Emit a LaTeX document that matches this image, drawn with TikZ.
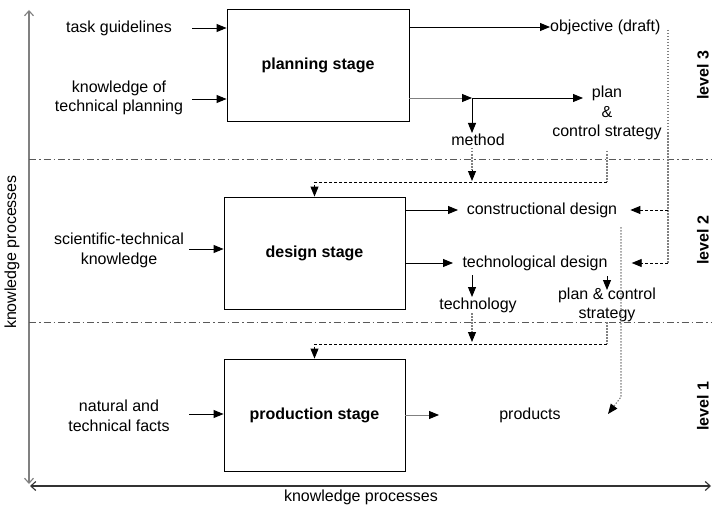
\documentclass[tikz,border=0pt]{standalone}
\usepackage{fontspec}
\setmainfont{Liberation Sans}
\usetikzlibrary{arrows.meta}
\begin{document}
\begin{tikzpicture}[x=1pt,y=-1pt,
  every node/.style={inner sep=0pt, align=center, font=\fontsize{16}{19.5}\selectfont},
  stage/.style={draw, line width=0.9pt, minimum width=181pt, minimum height=112pt, font=\fontsize{16}{19.5}\selectfont\bfseries},
  lvl/.style={rotate=90, font=\fontsize{16}{19.5}\selectfont\bfseries},
  arr/.style={-{Triangle[length=10pt,width=8pt]}, line width=0.9pt},
  garr/.style={-{Triangle[length=10pt,width=8pt,color=black]}, line width=0.9pt, draw=gray},
  dots/.style={draw=gray, dash pattern=on 1.5pt off 1.5pt, line width=1.1pt},
  dsh/.style={dash pattern=on 3pt off 2pt, line width=0.9pt},
  levelline/.style={draw=black!65, line width=0.9pt, dash pattern=on 7pt off 3pt on 1.5pt off 3pt},
  axis/.style={line width=1.1pt, {Straight Barb[length=5pt,width=9pt]}-{Straight Barb[length=5pt,width=9pt]}}
]
\useasboundingbox (0,0) rectangle (712,508);

% axes
\draw[axis, draw=gray] (29,10) -- (29,484);
\draw[axis, draw=black!80] (30,486) -- (711,486);
\node[rotate=90] (kpv) at (12,252) {knowledge processes};
\node (kph) at (361,497) {knowledge processes};

% level separators
\draw[levelline] (29,159) -- (712,159);
\draw[levelline] (29,322) -- (712,322);

% level labels
\node[lvl] (l3) at (703,75) {level 3};
\node[lvl] (l2) at (703,240) {level 2};
\node[lvl] (l1) at (703,406) {level 1};

% stage boxes
\node[stage, minimum width=182pt] (plan) at (318,65) {planning stage};
\node[stage] (design) at (314.5,253) {design stage};
\node[stage] (prod) at (314.5,415) {production stage};

% inputs
\node (tg) at (119,28) {task guidelines};
\node (ktp) at (119,98) {knowledge of\\technical planning};
\node (stk) at (119,250.5) {scientific-technical\\knowledge};
\node (ntf) at (119,416) {natural and\\technical facts};
\coordinate (tgA) at (192,28);
\coordinate (ktpA) at (192,99);
\coordinate (stkA) at (189,249);
\coordinate (ntfA) at (189,414);
\draw[arr] (tgA) -- (tgA -| plan.west);
\draw[arr] (ktpA) -- (ktpA -| plan.west);
\draw[arr] (stkA) -- (stkA -| design.west);
\draw[arr] (ntfA) -- (ntfA -| prod.west);

% planning outputs
\node[anchor=west] (obj) at (550,27) {objective (draft)};
\draw[arr] (plan.east |- obj.west) -- (obj.west);
\coordinate (split) at (472,98);
\coordinate (pcsIn) at (583,98);
\node (pcs1) at (607,113) {plan\\\&\\control strategy};
\node (method) at (478,140) {method};
\draw[garr] (plan.east |- split) -- (split);
\draw[arr] (split) -- (pcsIn);
\draw[arr] (split) -- (split |- 0,133);

% feedback into design stage
\coordinate (mTop) at (472,148);
\coordinate (mTip) at (472,181);
\draw[dots] (mTop) -- (472,170);
\draw[arr, dash pattern=on 1.5pt off 1.5pt] (472,170) -- (mTip);
\coordinate (c1) at (607,182);
\draw[dots] (607,151) -- (c1);
\draw[dsh, arr] (c1) -- (c1 -| design.north) -- (design.north);

% objective dotted line
\coordinate (o1) at (668,30);
\coordinate (o2) at (668,210);
\coordinate (o3) at (668,263);
\draw[dots] (o1) -- (o3);

% design outputs
\node (cd) at (542,210) {constructional design};
\node (td) at (535,263) {technological design};
\coordinate (cdIn) at (458,210);
\coordinate (tdIn) at (453,263);
\draw[arr] (design.east |- cdIn) -- (cdIn);
\draw[arr] (design.east |- tdIn) -- (tdIn);
\draw[dsh, arr] (o2) -- ([xshift=13pt]cd.east);
\draw[dsh, arr] (o3) -- ([xshift=24pt]td.east);

\node (tech) at (478,305) {technology};
\draw[arr] (472,275) -- (472,297);
\node (pcs2) at (607,305) {plan \& control\\strategy};
\draw[arr] (607,276) -- (607,290);

% feedback into production stage
\draw[dots] (472,313) -- (472,332);
\draw[arr, dash pattern=on 1.5pt off 1.5pt] (472,332) -- (472,342);
\coordinate (c2) at (607,344);
\draw[dots] (607,322) -- (c2);
\draw[dsh, arr] (c2) -- (c2 -| prod.north) -- (prod.north);

% production outputs
\node (prodt) at (530,415) {products};
\coordinate (prA) at (439,415);
\draw[garr] (prod.east |- prA) -- (prA);

% dotted curve to products
\draw[dots, -{Triangle[length=10pt,width=8pt,color=black]}] (621,227) -- (621,397) -- (608,414);
\end{tikzpicture}
\end{document}
